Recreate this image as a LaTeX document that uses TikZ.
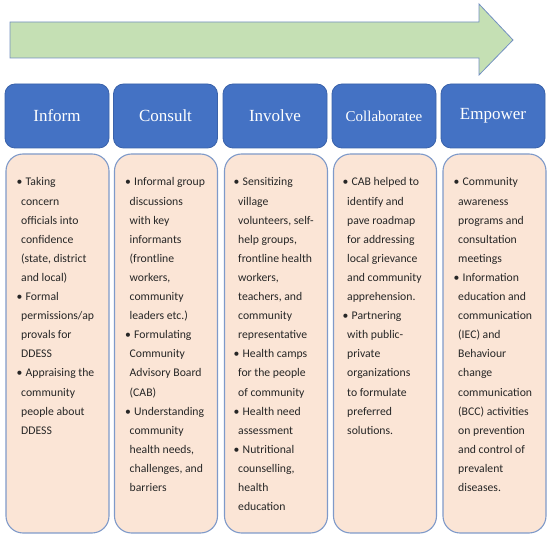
\documentclass[tikz,border=0pt]{standalone}
\usepackage{fontspec}
\setmainfont{Carlito}
\newfontfamily\headfont{Liberation Serif}
\definecolor{arrowfill}{HTML}{C5E0B4}
\definecolor{arrowline}{HTML}{7390C2}
\definecolor{headfill}{HTML}{4472C4}
\definecolor{headline}{HTML}{3A62AA}
\definecolor{boxfill}{HTML}{FBE5D6}
\definecolor{boxline}{HTML}{7F9AC9}
\newcommand{\bul}{\hspace*{-4.5pt}\makebox[9pt][l]{\textbullet}}
\begin{document}
\begin{tikzpicture}[x=1pt,y=-1pt,
  headbox/.style={draw=headline, line width=0.8pt, fill=headfill, rounded corners=10pt,
    minimum width=104pt, minimum height=64pt, inner sep=0pt, text=white,
    font=\headfont\fontsize{17}{20}\selectfont},
  contentbox/.style={draw=boxline, line width=1.1pt, fill=boxfill, rounded corners=17pt,
    minimum width=103pt, minimum height=379pt, inner sep=0pt},
  textcol/.style={anchor=base west, inner sep=0pt, text=black!85,
    font=\fontsize{11.7}{19.1}\selectfont}]
\useasboundingbox (0,0) rectangle (550,537);

% big arrow
\draw[draw=arrowline, line width=0.8pt, fill=arrowfill]
  (10,22) -- (479,22) -- (479,4) -- (513,40) -- (479,75) -- (479,58) -- (10,58) -- cycle;

% headers
\node[headbox] (h1) at (57,116) {Inform};
\node[headbox] (h2) at (165.5,116) {Consult};
\node[headbox] (h3) at (275,116) {Involve};
\node[headbox, font=\headfont\fontsize{15}{18}\selectfont] (h4) at (384,116) {Collaboratee};
\node[headbox] (h5) at (493,116) {Empower};

% content boxes
\node[contentbox] (c1) at (57.5,343.5) {};
\node[contentbox] (c2) at (166,343.5) {};
\node[contentbox] (c3) at (276,343.5) {};
\node[contentbox] (c4) at (385,343.5) {};
\node[contentbox] (c5) at (494.5,343.5) {};

% texts
\node[textcol] (t1) at (21,186) {\begin{tabular}[t]{@{}l@{}}
\bul Taking\\ concern\\ officials into\\ confidence\\ (state, district\\ and local)\\
\bul Formal\\ permissions/ap\\ provals for\\ DDESS\\
\bul Appraising the\\ community\\ people about\\ DDESS
\end{tabular}};

\node[textcol] (t2) at (129.5,186) {\begin{tabular}[t]{@{}l@{}}
\bul Informal group\\ discussions\\ with key\\ informants\\ (frontline\\ workers,\\ community\\ leaders etc.)\\
\bul Formulating\\ Community\\ Advisory Board\\ (CAB)\\
\bul Understanding\\ community\\ health needs,\\ challenges, and\\ barriers
\end{tabular}};

\node[textcol] (t3) at (238,186) {\begin{tabular}[t]{@{}l@{}}
\bul Sensitizing\\ village\\ volunteers, self-\\ help groups,\\ frontline health\\ workers,\\ teachers, and\\ community\\ representative\\
\bul Health camps\\ for the people\\ of community\\
\bul Health need\\ assessment\\
\bul Nutritional\\ counselling,\\ health\\ education
\end{tabular}};

\node[textcol] (t4) at (347,186) {\begin{tabular}[t]{@{}l@{}}
\bul CAB helped to\\ identify and\\ pave roadmap\\ for addressing\\ local grievance\\ and community\\ apprehension.\\
\bul Partnering\\ with public-\\ private\\ organizations\\ to formulate\\ preferred\\ solutions.
\end{tabular}};

\node[textcol] (t5) at (458,186) {\begin{tabular}[t]{@{}l@{}}
\bul Community\\ awareness\\ programs and\\ consultation\\ meetings\\
\bul Information\\ education and\\ communication\\ (IEC) and\\ Behaviour\\ change\\ communication\\ (BCC) activities\\ on prevention\\ and control of\\ prevalent\\ diseases.
\end{tabular}};
\end{tikzpicture}
\end{document}
